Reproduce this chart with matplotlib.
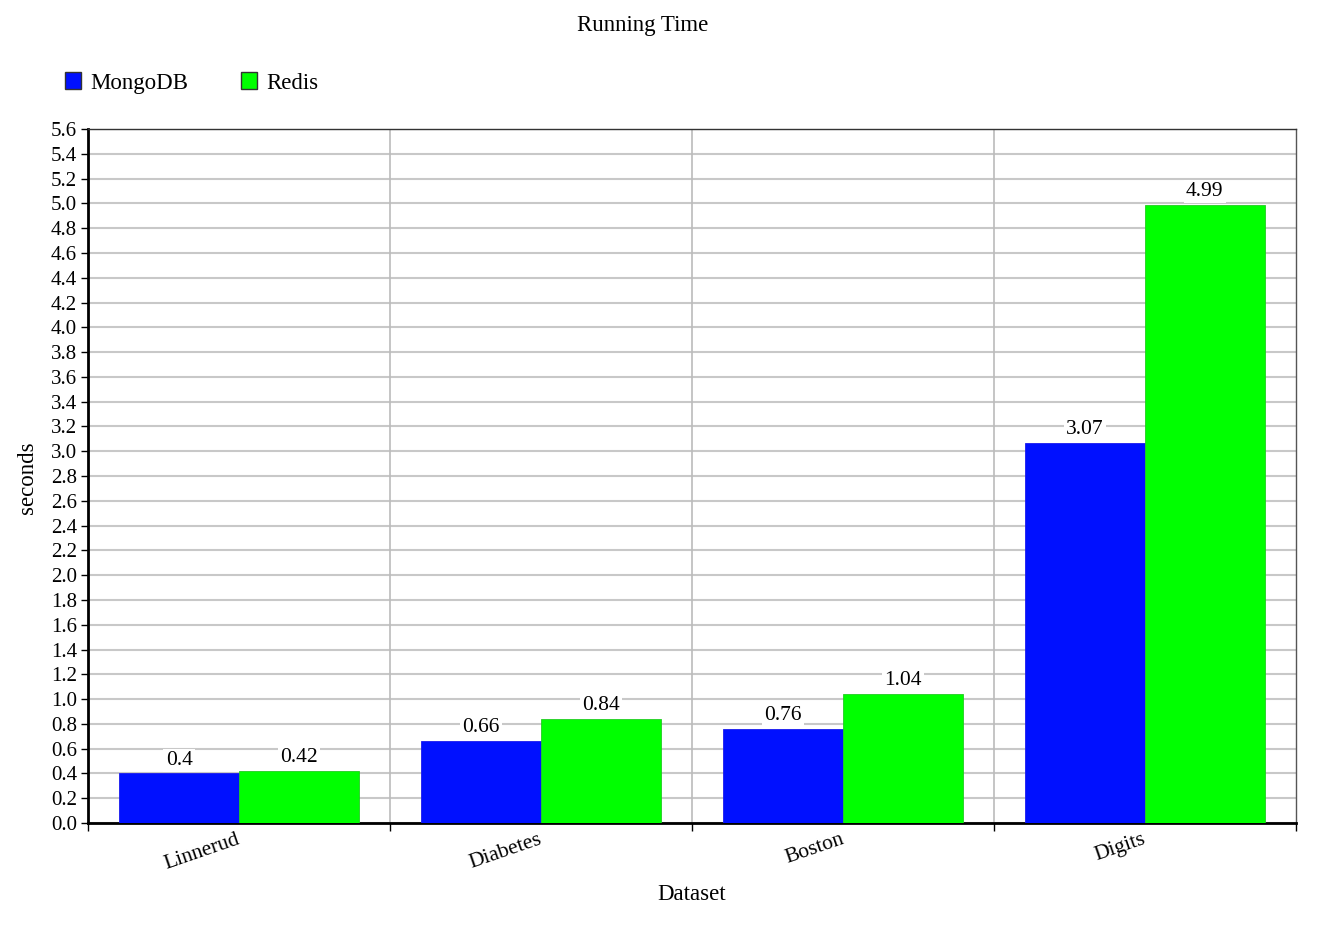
import numpy as np
import matplotlib
matplotlib.use('Agg')
import matplotlib.pyplot as plt
from matplotlib.patches import Patch

plt.rcParams['font.family'] = ['Liberation Serif', 'DejaVu Serif']

datasets = ['Linnerud', 'Diabetes', 'Boston', 'Digits']
mongo = [0.4, 0.66, 0.76, 3.07]
redis = [0.42, 0.84, 1.04, 4.99]
mongo_lbl = ['0.4', '0.66', '0.76', '3.07']
redis_lbl = ['0.42', '0.84', '1.04', '4.99']

blue = '#0010FF'
green = '#00FF00'

fig = plt.figure(figsize=(13.2, 9.33), dpi=100)
ax = fig.add_axes([0.0667, 0.1179, 0.915, 0.7438])

x = np.arange(len(datasets))
w = 0.397
ax.bar(x - w / 2, mongo, w, color=blue, edgecolor='#1a1aee', linewidth=0.6, zorder=3)
ax.bar(x + w / 2, redis, w, color=green, edgecolor='#22cc22', linewidth=0.6, zorder=3)

box = dict(facecolor='white', edgecolor='none', pad=1.5)
for xi, v, t in zip(x - w / 2, mongo, mongo_lbl):
    ax.text(xi, v + 0.03, t, ha='center', va='bottom', fontsize=15.5, bbox=box, zorder=4)
for xi, v, t in zip(x + w / 2, redis, redis_lbl):
    ax.text(xi, v + 0.03, t, ha='center', va='bottom', fontsize=15.5, bbox=box, zorder=4)

ax.set_xlim(-0.5, len(datasets) - 0.5)
ax.set_ylim(0, 5.6)
yt = np.arange(0, 5.61, 0.2)
ax.set_yticks(yt)
ax.set_yticklabels(['%.1f' % v for v in yt], fontsize=15)
ax.tick_params(axis='y', direction='out', length=5, width=1, pad=3)

# category boundaries: ticks and vertical grid
bounds = np.arange(-0.5, len(datasets), 1.0)
ax.set_xticks(bounds)
ax.set_xticklabels([])
ax.tick_params(axis='x', direction='out', length=6, width=1)
for bx in bounds[1:-1]:
    ax.axvline(bx, color='#bbbbbb', linewidth=1.2, zorder=1)
ax.yaxis.grid(True, color='#c8c8c8', linewidth=1.5, zorder=1)
ax.set_axisbelow(True)

for xi, name in zip(x, datasets):
    ax.annotate(name, xy=(xi, 0), xytext=(-2, -5), textcoords='offset points',
                rotation=19, ha='right', va='top', rotation_mode='anchor',
                fontsize=15.5, annotation_clip=False)

ax.spines['left'].set_linewidth(2)
ax.spines['bottom'].set_linewidth(2)
ax.spines['top'].set_linewidth(1)
ax.spines['top'].set_color('#333333')
ax.spines['right'].set_linewidth(1)
ax.spines['right'].set_color('#555555')

fig.text(692 / 1320, 1 - 895 / 933, 'Dataset', ha='center', va='center', fontsize=16.5)
fig.text(28 / 1320, 1 - 478 / 933, 'seconds', ha='center', va='center', rotation=90, fontsize=16.5)
fig.text(643 / 1320, 1 - 25 / 933, 'Running Time', ha='center', va='center', fontsize=16.5)

handles = [Patch(facecolor=blue, edgecolor='#333333', label='MongoDB'),
           Patch(facecolor=green, edgecolor='#333333', label='Redis')]
fig.legend(handles=handles, loc='center left', bbox_to_anchor=(65 / 1320, 1 - 83 / 933), ncol=2,
           frameon=False, fontsize=16.5, handlelength=0.7, handleheight=0.7,
           columnspacing=2.3, handletextpad=0.4, borderpad=0, borderaxespad=0)

fig.savefig('out.png', dpi=100)
